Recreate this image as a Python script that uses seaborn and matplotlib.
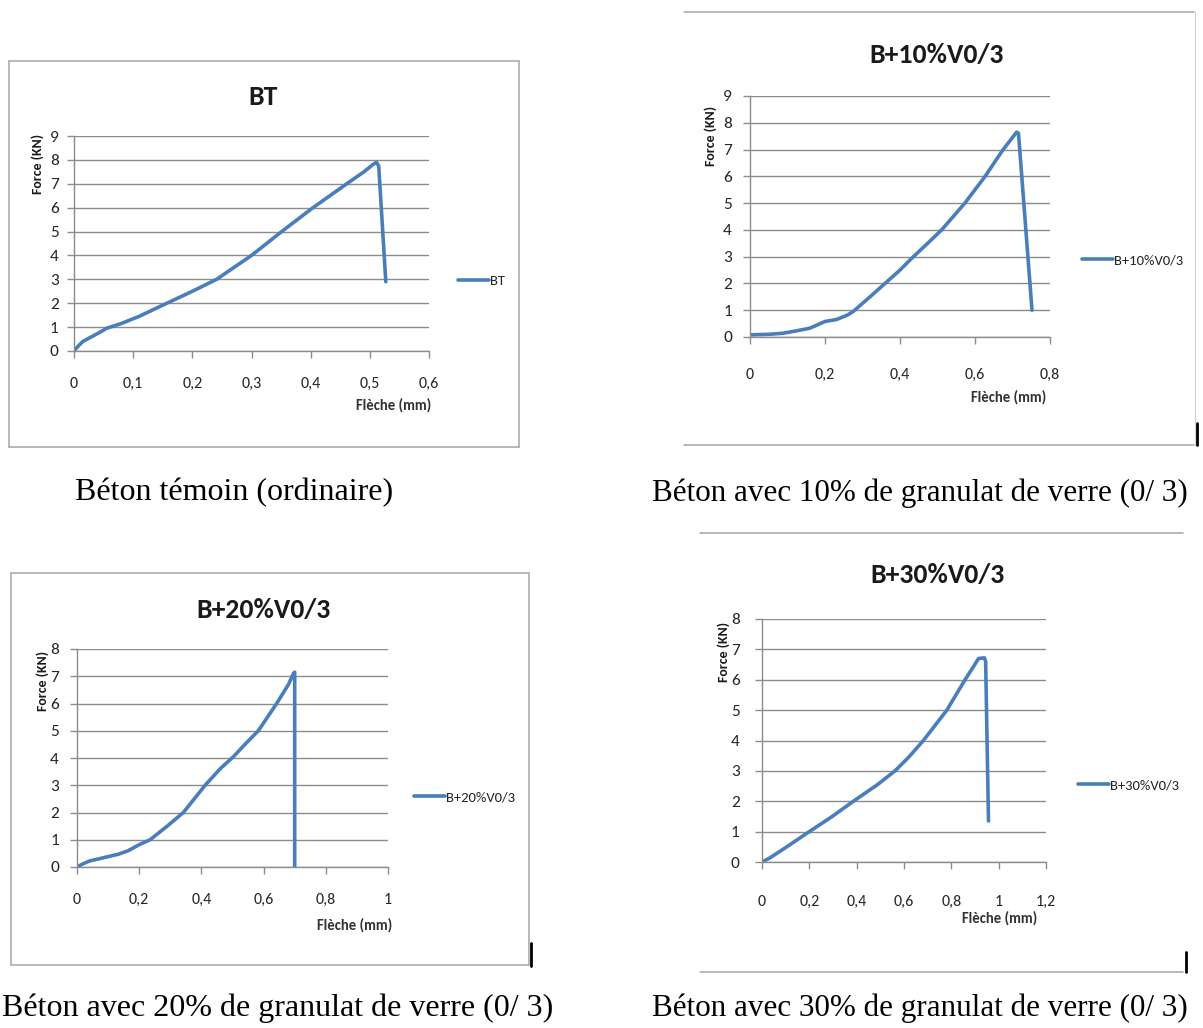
import matplotlib
matplotlib.use("Agg")
import matplotlib.pyplot as plt
import pandas as pd
import seaborn as sns
from matplotlib import font_manager
from matplotlib.lines import Line2D

# ---------------- data ----------------
bt_fleche = [0, 0.005, 0.015, 0.03, 0.045, 0.055, 0.08, 0.11, 0.157, 0.2,
             0.241, 0.30, 0.351, 0.404, 0.461, 0.49, 0.505, 0.511, 0.515, 0.527]
bt_force = [0, 0.15, 0.4, 0.6, 0.8, 0.95, 1.15, 1.45, 2.0, 2.5,
            3.0, 4.0, 5.0, 6.0, 7.0, 7.5, 7.8, 7.9, 7.75, 2.9]

b10_fleche = [0, 0.05, 0.088, 0.12, 0.16, 0.2, 0.23, 0.26, 0.275, 0.32, 0.36,
              0.40, 0.432, 0.47, 0.511, 0.573, 0.627, 0.675, 0.70, 0.711, 0.716, 0.752]
b10_force = [0.08, 0.1, 0.14, 0.22, 0.33, 0.58, 0.65, 0.82, 0.95, 1.5, 2.0,
             2.5, 2.95, 3.45, 4.0, 5.0, 6.0, 7.0, 7.45, 7.65, 7.6, 1.0]

b20_fleche = [0, 0.02, 0.04, 0.07, 0.1, 0.133, 0.165, 0.2, 0.235, 0.29, 0.342,
              0.412, 0.46, 0.503, 0.54, 0.583, 0.642, 0.68, 0.696, 0.700, 0.700]
b20_force = [0, 0.12, 0.22, 0.3, 0.38, 0.47, 0.6, 0.82, 1.0, 1.5, 2.0,
             3.0, 3.6, 4.05, 4.5, 5.0, 6.0, 6.7, 7.1, 7.15, 0]

b30_fleche = [0, 0.03, 0.097, 0.196, 0.295, 0.386, 0.485, 0.562, 0.62, 0.682,
              0.781, 0.858, 0.895, 0.915, 0.94, 0.945, 0.957]
b30_force = [0, 0.12, 0.46, 0.98, 1.49, 2.0, 2.53, 3.0, 3.45, 4.0,
             5.0, 6.0, 6.45, 6.7, 6.72, 6.6, 1.35]

names = ["BT", "B+10%V0/3", "B+20%V0/3", "B+30%V0/3"]
legend_names = ["BT", "B+10%V0/3", "B+20%V0/3", "B+30%V0/3"]
captions = ["Béton témoin (ordinaire)",
            "Béton avec 10% de granulat de verre (0/ 3)",
            "Béton avec 20% de granulat de verre (0/ 3)",
            "Béton avec 30% de granulat de verre (0/ 3)"]

xticks_bt = [0, 0.1, 0.2, 0.3, 0.4, 0.5, 0.6]
xlabels_bt = ["0", "0,1", "0,2", "0,3", "0,4", "0,5", "0,6"]
xticks_b10 = [0, 0.2, 0.4, 0.6, 0.8]
xlabels_b10 = ["0", "0,2", "0,4", "0,6", "0,8"]
xticks_b20 = [0, 0.2, 0.4, 0.6, 0.8, 1.0]
xlabels_b20 = ["0", "0,2", "0,4", "0,6", "0,8", "1"]
xticks_b30 = [0, 0.2, 0.4, 0.6, 0.8, 1.0, 1.2]
xlabels_b30 = ["0", "0,2", "0,4", "0,6", "0,8", "1", "1,2"]
ymax_values = [9, 9, 8, 8]

x_title = "Flèche (mm)"
y_title = "Force (KN)"

# ---------------- style ----------------
W, H = 1203, 1028
BLUE = "#4A7EBB"
GRID = "#8C8C8C"
FRAME = "#A6A6A6"
TXT = "#262626"

sns.set_theme(style="white")
available = {f.name for f in font_manager.fontManager.ttflist}
sans = next(f for f in ["Carlito", "Lato", "Open Sans", "DejaVu Sans"] if f in available)
serif = next(f for f in ["Liberation Serif", "DejaVu Serif"] if f in available)
plt.rcParams["font.family"] = [sans, "DejaVu Sans"]

fig = plt.figure(figsize=(W / 100, H / 100), dpi=100)
fig.patch.set_facecolor("white")


def fx(x):
    return x / W


def fy(y):
    return 1 - y / H


def hline(x0, x1, y, color, lw):
    fig.add_artist(Line2D([fx(x0), fx(x1)], [fy(y), fy(y)],
                          transform=fig.transFigure, color=color, lw=lw))


def vline(x, y0, y1, color, lw):
    fig.add_artist(Line2D([fx(x), fx(x)], [fy(y0), fy(y1)],
                          transform=fig.transFigure, color=color, lw=lw))


def panel(fleche, force, name, leg, box, xticks, xlabels, ymax,
          title_xy, ylab_xy, xlab_xy, leg_xy, xpad, ypad):
    x0, y0, x1, y1 = box
    ax = fig.add_axes([fx(x0), fy(y1), (x1 - x0) / W, (y1 - y0) / H])
    df = pd.DataFrame({x_title: fleche, y_title: force})
    sns.lineplot(data=df, x=x_title, y=y_title, ax=ax, sort=False,
                 estimator=None, color=BLUE, linewidth=2.6, label=leg,
                 solid_joinstyle="round", solid_capstyle="round")
    ax.set_xlim(xticks[0], xticks[-1])
    ax.set_ylim(0, ymax)
    ax.set_xticks(xticks)
    ax.set_xticklabels(xlabels)
    ax.set_yticks(range(ymax + 1))
    ax.set_facecolor("white")
    ax.yaxis.grid(True, color=GRID, lw=1.0)
    ax.xaxis.grid(False)
    for s in ["top", "right"]:
        ax.spines[s].set_visible(False)
    for s in ["left", "bottom"]:
        ax.spines[s].set_color(GRID)
        ax.spines[s].set_linewidth(1.0)
    ax.tick_params(axis="x", direction="out", length=5, width=1.0, color=GRID,
                   pad=xpad, labelsize=11.5, labelcolor=TXT, bottom=True)
    ax.tick_params(axis="y", direction="out", length=5, width=1.0, color=GRID,
                   pad=ypad, labelsize=12.5, labelcolor=TXT, left=True)
    ax.set_xlabel("")
    ax.set_ylabel("")
    ax.legend(loc="center left", bbox_to_anchor=(fx(leg_xy[0]), fy(leg_xy[1])),
              bbox_transform=fig.transFigure, frameon=False, fontsize=10.5,
              handlelength=2.1, handletextpad=0.1, borderpad=0,
              borderaxespad=0, labelcolor=TXT)
    fig.text(fx(title_xy[0]), fy(title_xy[1]), name, ha="center", va="center",
             fontsize=20, fontweight="bold", color="#1A1A1A")
    fig.text(fx(ylab_xy[0]), fy(ylab_xy[1]), y_title, ha="center", va="center",
             rotation=90, fontsize=10, fontweight="bold", color="#1A1A1A")
    fig.text(fx(xlab_xy[0]), fy(xlab_xy[1]), x_title, ha="right", va="center",
             fontsize=10.5, fontweight="bold", color="#333333")
    return ax


# BT
panel(bt_fleche, bt_force, names[0], legend_names[0], (74, 136, 429, 351),
      xticks_bt, xlabels_bt, ymax_values[0], (263, 97), (38, 164), (431, 405),
      (458, 281), 14, 6)
# B+10%
panel(b10_fleche, b10_force, names[1], legend_names[1], (750, 96, 1050, 337),
      xticks_b10, xlabels_b10, ymax_values[1], (937, 55), (711, 136), (1046, 397),
      (1082, 260), 17, 8)
# B+20%
panel(b20_fleche, b20_force, names[2], legend_names[2], (77, 649, 388, 867),
      xticks_b20, xlabels_b20, ymax_values[2], (263, 610), (43, 681), (392, 925),
      (414, 797), 14, 8)
# B+30%
panel(b30_fleche, b30_force, names[3], legend_names[3], (762, 619, 1046, 862),
      xticks_b30, xlabels_b30, ymax_values[3], (938, 575), (724, 652), (1037, 918),
      (1078, 785), 19, 11)

# chart frames
for (a, b, c, d) in [(9, 61, 519, 447), (11, 573, 529, 965)]:
    hline(a, c, b, FRAME, 1.1)
    hline(a, c, d, FRAME, 1.1)
    vline(a, b, d, FRAME, 1.1)
    vline(c, b, d, FRAME, 1.1)
hline(684, 1194, 12, FRAME, 1.1)
hline(684, 1194, 445, FRAME, 1.1)
vline(1195, 12, 445, "#D0D0D0", 0.8)
hline(700, 1183, 533, FRAME, 1.1)
hline(700, 1183, 972, FRAME, 1.1)
vline(531, 943, 966, "black", 2.0)
vline(1197, 423, 445, "black", 2.0)
vline(1186, 952, 972, "black", 2.0)

# captions under each chart
cap_pos = [(75, 493), (652, 493), (2, 1008), (652, 1008)]
cap_size = [23, 22.4, 23, 22.4]
for text, (cx, cy), fs in zip(captions, cap_pos, cap_size):
    fig.text(fx(cx), fy(cy), text, ha="left", va="center", fontsize=fs,
             family=serif, color="black")

fig.savefig("out.png", dpi=100, facecolor="white")
